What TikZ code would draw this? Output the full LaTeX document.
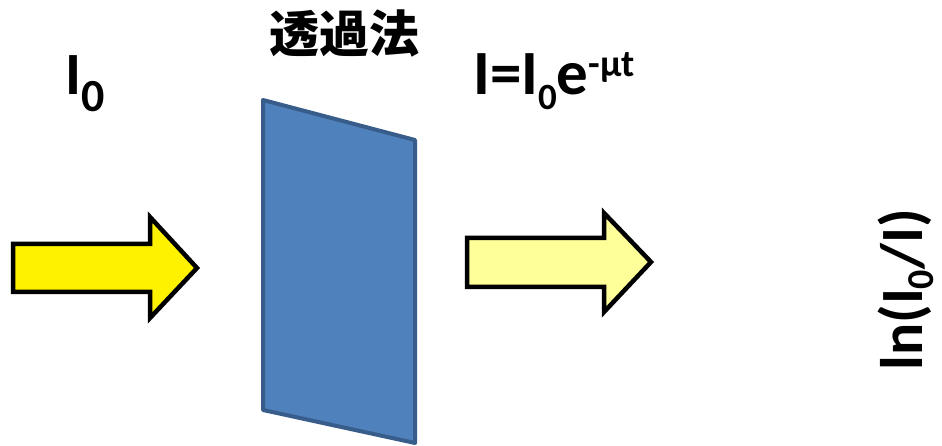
\documentclass[tikz,border=0pt]{standalone}
\usepackage{fontspec}
\setmainfont{Carlito}
\newfontfamily\cjk{Noto Sans CJK JP}
\usepackage{xcolor}
\definecolor{plateblue}{HTML}{4F81BD}
\definecolor{plateedge}{HTML}{385D8A}
\definecolor{paleyellow}{HTML}{FFFF99}
% #1 size, #2 shift (pt), #3 text
\newcommand{\shifted}[3]{\raisebox{#2pt}{\fontsize{#1}{#1}\selectfont #3}}

\begin{document}
\begin{tikzpicture}[x=1pt, y=-1pt,
  beam/.style={draw=black, line width=4.5pt, miter limit=10, fill=#1},
  plate/.style={draw=plateedge, line width=4pt, line join=round, fill=plateblue},
  label/.style={inner sep=0pt, font=\fontsize{60}{62}\selectfont\bfseries}
]
  \useasboundingbox (0,0) rectangle (942,446);
  % incoming beam
  \draw[beam=yellow] (13,244) -- (150,244) -- (150,217) -- (197,268)
    -- (150,318) -- (150,292) -- (13,292) -- cycle;
  % sample
  \draw[plate] (263,100) -- (415,140) -- (415,443) -- (263,410) -- cycle;
  % transmitted beam
  \draw[beam=paleyellow] (467,238) -- (604,238) -- (604,213) -- (651,262)
    -- (604,312) -- (604,287) -- (467,287) -- cycle;
  % labels
  \node[label, anchor=base west] (incident) at (65,95) {I\shifted{46}{-17}{0}};
  \node[label, anchor=base west, font=\fontsize{63}{65}\selectfont\bfseries] (transmit) at (473,95)
    {I=I\shifted{37}{-15}{0}e\shifted{38}{18}{-μt}};
  \node[inner sep=0pt, font=\fontsize{50}{52}\selectfont\cjk\bfseries] (method) at (344,34) {透過法};
  \node[label, rotate=90, anchor=base] (absorb) at (922,290) {ln(I\shifted{38}{-11}{0}/I)};
\end{tikzpicture}
\end{document}
